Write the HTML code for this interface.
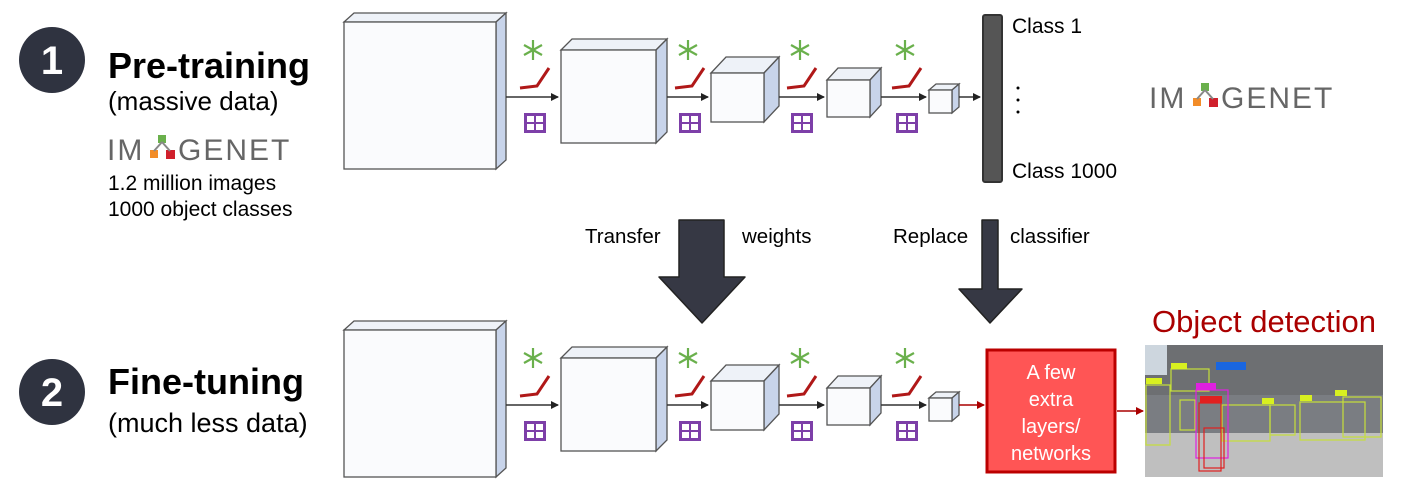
<!DOCTYPE html>
<html><head><style>
body{margin:0;background:#fff;width:1408px;height:500px;overflow:hidden}
svg{display:block}
text{font-family:"Liberation Sans",Arial,sans-serif}
</style></head><body>
<svg width="1408" height="500" viewBox="0 0 1408 500">
<defs>
<marker id="ah" markerWidth="8" markerHeight="8" refX="7" refY="4" orient="auto" markerUnits="userSpaceOnUse"><path d="M0,0 L8,4 L0,8 z" fill="#222"/></marker>
<marker id="ahr" markerWidth="8" markerHeight="8" refX="7" refY="4" orient="auto" markerUnits="userSpaceOnUse"><path d="M0,0 L8,4 L0,8 z" fill="#a00"/></marker>
<g id="icons">
 <g stroke="#6ab04c" stroke-width="2.2"><line x1="0" y1="-10" x2="0" y2="10"/><line x1="-9" y1="-5" x2="9" y2="5"/><line x1="-9" y1="5" x2="9" y2="-5"/></g>
 <polyline points="-13,38 4,36 16,18" fill="none" stroke="#b01818" stroke-width="3"/>
 <g><rect x="-9" y="63" width="22" height="20" fill="#7d3fa8"/><rect x="-6" y="66" width="7" height="6" fill="#fff"/><rect x="3" y="66" width="7" height="6" fill="#fff"/><rect x="-6" y="74" width="7" height="6" fill="#fff"/><rect x="3" y="74" width="7" height="6" fill="#fff"/></g>
</g>
<g id="net">
 <polygon points="344,22 354,13 506,13 496,22" fill="#eef2f8" stroke="#555" stroke-width="1.3"/>
 <polygon points="496,22 506,13 506,160 496,169" fill="#c8d4ea" stroke="#555" stroke-width="1.3"/>
 <rect x="344" y="22" width="152" height="147" fill="#fafbfd" stroke="#555" stroke-width="1.3"/>
 <polygon points="561,50 572,39 667,39 656,50" fill="#eef2f8" stroke="#555" stroke-width="1.3"/>
 <polygon points="656,50 667,39 667,132 656,143" fill="#c8d4ea" stroke="#555" stroke-width="1.3"/>
 <rect x="561" y="50" width="95" height="93" fill="#fafbfd" stroke="#555" stroke-width="1.3"/>
 <polygon points="711,73 726,57 779,57 764,73" fill="#eef2f8" stroke="#555" stroke-width="1.3"/>
 <polygon points="764,73 779,57 779,106 764,122" fill="#c8d4ea" stroke="#555" stroke-width="1.3"/>
 <rect x="711" y="73" width="53" height="49" fill="#fafbfd" stroke="#555" stroke-width="1.3"/>
 <polygon points="827,80 838,68 881,68 870,80" fill="#eef2f8" stroke="#555" stroke-width="1.3"/>
 <polygon points="870,80 881,68 881,105 870,117" fill="#c8d4ea" stroke="#555" stroke-width="1.3"/>
 <rect x="827" y="80" width="43" height="37" fill="#fafbfd" stroke="#555" stroke-width="1.3"/>
 <polygon points="929,90 936,84 959,84 952,90" fill="#eef2f8" stroke="#555" stroke-width="1.3"/>
 <polygon points="952,90 959,84 959,107 952,113" fill="#c8d4ea" stroke="#555" stroke-width="1.3"/>
 <rect x="929" y="90" width="23" height="23" fill="#fafbfd" stroke="#555" stroke-width="1.3"/>
 <g stroke="#333" stroke-width="1.4">
  <line x1="506" y1="97" x2="558" y2="97" marker-end="url(#ah)"/>
  <line x1="667" y1="97" x2="708" y2="97" marker-end="url(#ah)"/>
  <line x1="779" y1="97" x2="824" y2="97" marker-end="url(#ah)"/>
  <line x1="881" y1="97" x2="926" y2="97" marker-end="url(#ah)"/>
 </g>
 <use href="#icons" x="533" y="50"/>
 <use href="#icons" x="688" y="50"/>
 <use href="#icons" x="800" y="50"/>
 <use href="#icons" x="905" y="50"/>
</g>
</defs>

<circle cx="52" cy="60" r="33" fill="#2f3340"/>
<text x="52" y="74" font-size="40" font-weight="bold" fill="#fff" text-anchor="middle">1</text>
<text x="108" y="78" font-size="36" font-weight="bold" fill="#000">Pre-training</text>
<text x="108" y="110" font-size="26" fill="#000">(massive data)</text>
<g font-size="30" fill="#666" letter-spacing="2">
 <text x="107" y="160">IM</text>
 <text x="178" y="160">GENET</text>
</g>
<g><rect x="158" y="135" width="8" height="8" fill="#6ab04c"/><rect x="150" y="150" width="8" height="8" fill="#f28c28"/><rect x="166" y="150" width="9" height="9" fill="#d0202c"/><path d="M162,142 L154,151 M162,142 L170,151" stroke="#888" stroke-width="2"/></g>
<text x="108" y="190" font-size="21" fill="#000">1.2 million images</text>
<text x="108" y="216" font-size="21" fill="#000">1000 object classes</text>

<use href="#net"/>
<line x1="959" y1="97" x2="980" y2="97" stroke="#333" stroke-width="1.4" marker-end="url(#ah)"/>
<rect x="983" y="15" width="19" height="167" rx="2" fill="#555" stroke="#333" stroke-width="2"/>
<text x="1012" y="33" font-size="21" fill="#000">Class 1</text>
<text x="1012" y="178" font-size="21" fill="#000">Class 1000</text>
<circle cx="1018" cy="88" r="1.5" fill="#000"/><circle cx="1018" cy="100" r="1.5" fill="#000"/><circle cx="1018" cy="112" r="1.5" fill="#000"/>

<g font-size="30" fill="#666" letter-spacing="2">
 <text x="1149" y="108">IM</text>
 <text x="1221" y="108">GENET</text>
</g>
<g><rect x="1201" y="83" width="8" height="8" fill="#6ab04c"/><rect x="1193" y="98" width="8" height="8" fill="#f28c28"/><rect x="1209" y="98" width="9" height="9" fill="#d0202c"/><path d="M1205,90 L1197,99 M1205,90 L1213,99" stroke="#888" stroke-width="2"/></g>

<text x="585" y="243" font-size="20.5" fill="#000">Transfer</text>
<text x="742" y="243" font-size="20.5" fill="#000">weights</text>
<polygon points="679,220 724,220 724,277 745,277 702,323 659,277 679,277" fill="#363844" stroke="#222" stroke-width="1.5" stroke-linejoin="round"/>
<text x="893" y="243" font-size="20.5" fill="#000">Replace</text>
<text x="1010" y="243" font-size="20.5" fill="#000">classifier</text>
<polygon points="982,220 998,220 998,289 1022,289 990,323 959,289 982,289" fill="#363844" stroke="#222" stroke-width="1.5" stroke-linejoin="round"/>

<circle cx="52" cy="392" r="33" fill="#2f3340"/>
<text x="52" y="406" font-size="40" font-weight="bold" fill="#fff" text-anchor="middle">2</text>
<text x="108" y="394" font-size="36" font-weight="bold" fill="#000">Fine-tuning</text>
<text x="108" y="432" font-size="27" fill="#000">(much less data)</text>

<use href="#net" y="308"/>
<line x1="959" y1="405" x2="984" y2="405" stroke="#a00" stroke-width="1.4" marker-end="url(#ahr)"/>
<rect x="987" y="350" width="128" height="122" fill="#f55" stroke="#b00" stroke-width="3"/>
<g font-size="20" fill="#fff" text-anchor="middle">
 <text x="1051" y="379">A few</text>
 <text x="1051" y="406">extra</text>
 <text x="1051" y="433">layers/</text>
 <text x="1051" y="460">networks</text>
</g>
<line x1="1117" y1="411" x2="1143" y2="411" stroke="#a00" stroke-width="1.4" marker-end="url(#ahr)"/>
<text x="1152" y="332" font-size="31" fill="#a00">Object detection</text>

<rect x="1145" y="345" width="238" height="132" fill="#8a8d92"/>
<rect x="1145" y="345" width="238" height="60" fill="#6d6f72"/>
<rect x="1145" y="345" width="22" height="30" fill="#cdd6de"/>
<rect x="1145" y="430" width="238" height="47" fill="#bfbfbf"/>
<rect x="1145" y="395" width="238" height="38" fill="#7a7d82"/>
<g fill="none" stroke="#c6e03a" stroke-width="1.2">
 <rect x="1146" y="385" width="24" height="60"/><rect x="1171" y="369" width="38" height="22"/>
 <rect x="1180" y="400" width="15" height="30"/><rect x="1222" y="405" width="48" height="36"/>
 <rect x="1270" y="405" width="25" height="30"/><rect x="1300" y="402" width="65" height="38"/>
 <rect x="1343" y="397" width="38" height="40"/>
</g>
<g fill="none" stroke="#e020e0" stroke-width="1.2"><rect x="1196" y="390" width="32" height="68"/></g>
<g fill="none" stroke="#e02020" stroke-width="1.2"><rect x="1199" y="403" width="22" height="68"/><rect x="1204" y="428" width="20" height="40"/></g>
<rect x="1200" y="396" width="22" height="7" fill="#e02020"/><rect x="1196" y="383" width="20" height="7" fill="#e020e0"/>
<rect x="1216" y="362" width="30" height="8" fill="#1a66e0"/>
<g fill="#d8f020"><rect x="1146" y="378" width="16" height="6"/><rect x="1171" y="363" width="16" height="6"/><rect x="1262" y="398" width="12" height="6"/><rect x="1300" y="395" width="12" height="6"/><rect x="1335" y="390" width="12" height="6"/></g>
</svg>
</body></html>
